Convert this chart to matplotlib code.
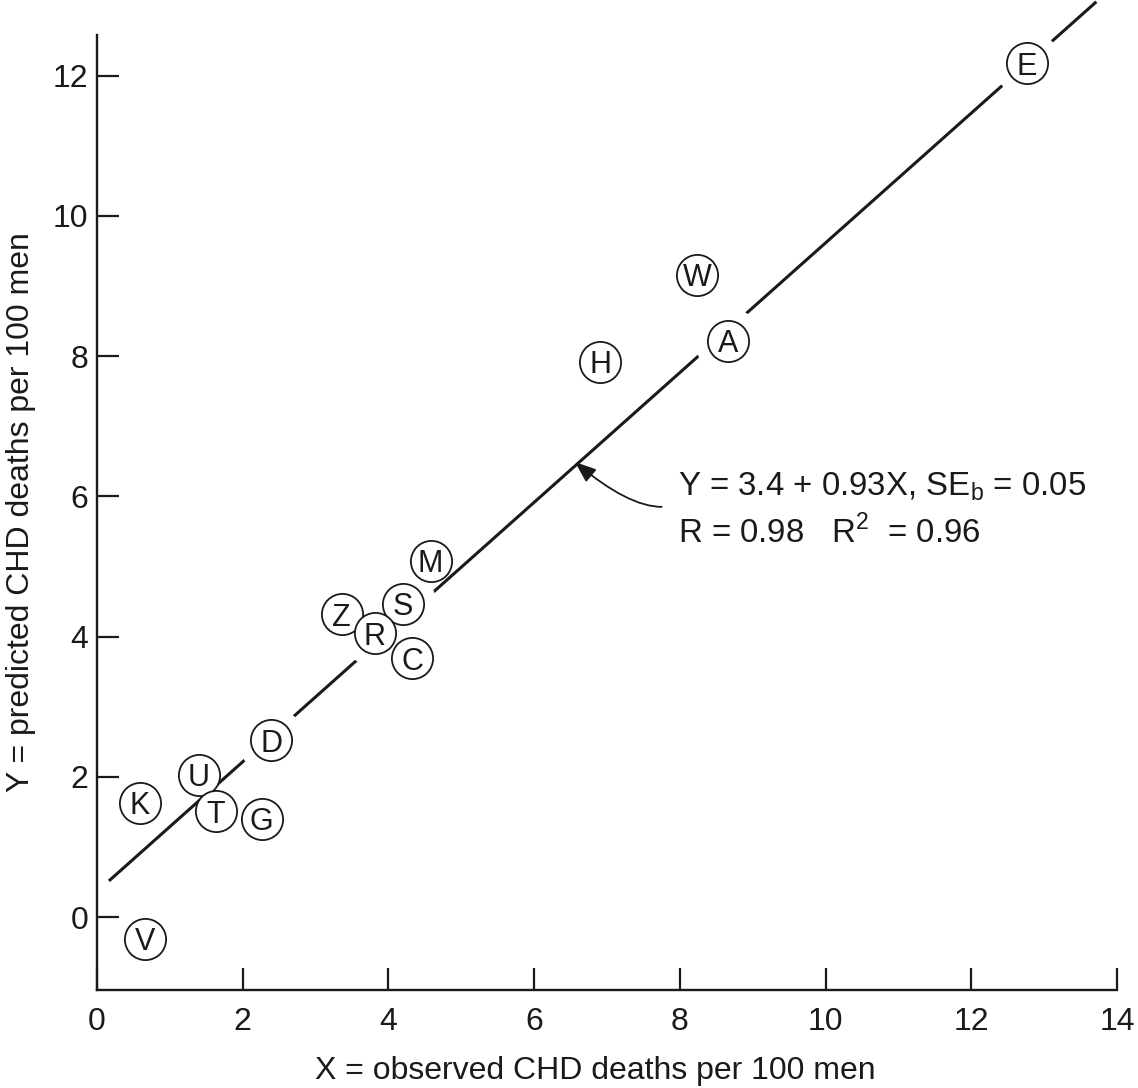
import matplotlib.pyplot as plt

plt.rcParams['font.family'] = ['Liberation Sans', 'DejaVu Sans']
plt.rcParams['mathtext.fontset'] = 'custom'
plt.rcParams['mathtext.rm'] = 'Liberation Sans'

# study populations: observed vs predicted CHD deaths per 100 men
labels = ["E", "W", "A", "H", "M", "S", "Z", "R", "C", "D", "U", "K", "T", "G", "V"]
observed = [12.76, 8.24, 8.66, 6.91, 4.58, 4.20, 3.36, 3.81, 4.33, 2.39, 1.40, 0.59, 1.63, 2.26, 0.66]
predicted = [12.18, 9.16, 8.22, 7.92, 5.08, 4.47, 4.32, 4.05, 3.69, 2.52, 2.03, 1.63, 1.51, 1.40, -0.31]

# points where the fitted line is broken around the circle
breaks = ["E", "A", "S", "R", "D"]

# fitted line as drawn
fit_x = [0.18, 13.70]
fit_y = [0.53, 13.04]

xticks = [0, 2, 4, 6, 8, 10, 12, 14]
yticks = [0, 2, 4, 6, 8, 10, 12]

ink = "#1a1a1a"

fig = plt.figure(figsize=(11.38, 10.88), dpi=100)
ax = fig.add_axes([0.0852, 0.0901, 0.8964, 0.8777])

ax.plot(fit_x, fit_y, color=ink, lw=2.2, clip_on=False, zorder=1)

bx = [x for l, x in zip(labels, observed) if l in breaks]
by = [y for l, y in zip(labels, predicted) if l in breaks]
ax.scatter(bx, by, s=2300, c="white", edgecolors="none", zorder=2)

ax.scatter(observed, predicted, s=880, c="white", edgecolors=ink, linewidths=1.3, zorder=3)
for lab, xv, yv in zip(labels, observed, predicted):
    ax.text(xv, yv, lab, ha="center", va="center_baseline", fontsize=22, color=ink, zorder=4)

ax.annotate("", xy=(6.56, 6.49), xytext=(7.75, 5.85),
            arrowprops=dict(arrowstyle="-|>,head_length=1.3,head_width=0.5", color=ink,
                            lw=1.3, connectionstyle="angle3,angleA=0,angleB=-40",
                            shrinkA=0, shrinkB=0), zorder=5)
ax.text(7.98, 6.02, r"Y = 3.4 + 0.93X, SE$_\mathregular{b}$ = 0.05", fontsize=23.8,
        va="baseline", color=ink)
ax.text(7.98, 5.335, r"R = 0.98   R$^\mathregular{2}$  = 0.96", fontsize=23.8,
        va="baseline", color=ink)

ax.set_xlim(0, 14)
ax.set_ylim(-1.04, 12.58)
ax.set_xticks(xticks)
ax.set_yticks(yticks)
ax.tick_params(direction="in", length=16, width=1.6, labelsize=23, colors=ink)
ax.tick_params(axis="x", pad=12)
ax.tick_params(axis="y", pad=6)
for side in ["top", "right"]:
    ax.spines[side].set_visible(False)
for side in ["left", "bottom"]:
    ax.spines[side].set_linewidth(1.7)
    ax.spines[side].set_color(ink)

ax.set_xlabel("X = observed CHD deaths per 100 men", fontsize=23, color=ink, labelpad=14)
ax.xaxis.label.set_x(0.489)
ax.set_ylabel("Y = predicted CHD deaths per 100 men", fontsize=23, color=ink, labelpad=12)

fig.savefig("out.png", dpi=100)
